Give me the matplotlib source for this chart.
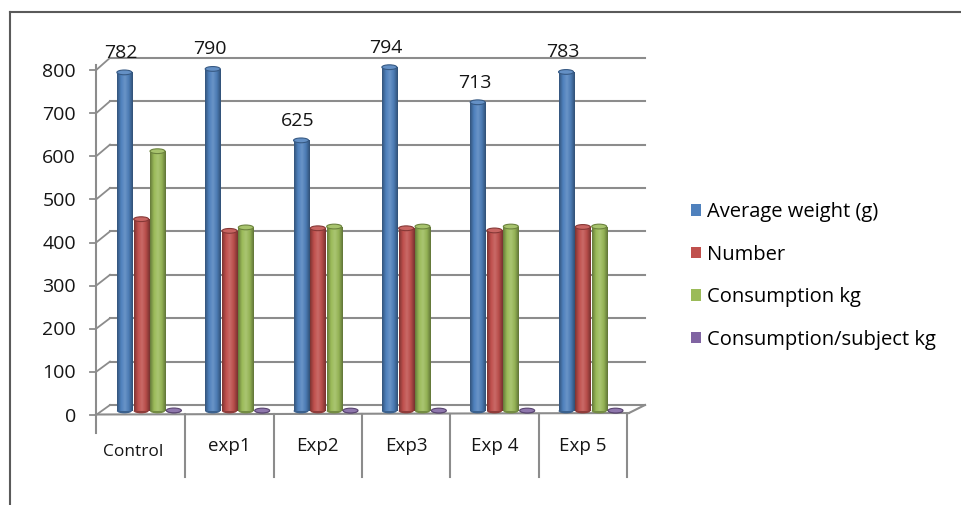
import numpy as np
import matplotlib
matplotlib.use("Agg")
import matplotlib.pyplot as plt
from matplotlib.patches import Ellipse, Patch
from matplotlib.lines import Line2D
from matplotlib.colors import LinearSegmentedColormap, to_rgb

# ---- data ----
categories = ["Control", "exp1", "Exp2", "Exp3", "Exp 4", "Exp 5"]
series_names = ["Average weight (g)", "Number", "Consumption kg", "Consumption/subject kg"]
avg_weight = [782, 790, 625, 794, 713, 783]
number = [443, 416, 422, 422, 417, 425]
consumption = [600, 424, 426, 426, 426, 426]
consumption_per_subject = [1.35, 1.02, 1.0, 1.0, 1.02, 1.0]
y_ticks = [0, 100, 200, 300, 400, 500, 600, 700, 800]

colors = ["#4F81BD", "#C0504D", "#9BBB59", "#8064A2"]
font = ["Open Sans", "DejaVu Sans"]
plt.rcParams["font.family"] = font

W, H = 961, 505
fig = plt.figure(figsize=(W / 100, H / 100), dpi=100)

# axes geometry (pixels)
PX_L, PX_R = 97, 627
PY_BASE, SCALE = 411, 0.433
PY_TOP, PY_BOT = 20, 480
ax = fig.add_axes([PX_L / W, 1 - PY_BOT / H, (PX_R - PX_L) / W, (PY_BOT - PY_TOP) / H])
xlim = (-0.5, 5.5)
ylim = ((PY_BASE - PY_BOT) / SCALE, (PY_BASE - PY_TOP) / SCALE)
ax.set_xlim(*xlim)
ax.set_ylim(*ylim)
ax.axis("off")

pxu = (PX_R - PX_L) / 6.0


def X(px):
    return (px - PX_L) / pxu - 0.5


def Y(py):
    return (PY_BASE - py) / SCALE


grid_c = "#8C8C8C"
txt_c = "#151515"
# back wall gridlines, diagonals and front ticks
for v in y_ticks:
    yb = 405 - 0.434 * v
    yf = 415 - 0.431 * v
    ax.plot([X(110), X(645)], [Y(yb), Y(yb)], color=grid_c, lw=1.5, clip_on=False, zorder=1)
    ax.plot([X(96), X(110)], [Y(yf), Y(yb)], color=grid_c, lw=1.3, clip_on=False, zorder=1)
    ax.plot([X(90), X(96)], [Y(yf), Y(yf)], color=grid_c, lw=1.3, clip_on=False, zorder=1)
    ax.text(X(76), Y(yf + 1.5), f"{v}", ha="right", va="center", fontsize=14, color=txt_c)

# left axis line
ax.plot([X(96), X(96)], [Y(65), Y(433)], color=grid_c, lw=1.5, clip_on=False, zorder=1)
# floor edges
ax.plot([X(96), X(629)], [Y(414.5), Y(413)], color=grid_c, lw=1.5, clip_on=False, zorder=1)
ax.plot([X(629), X(645)], [Y(413), Y(405)], color=grid_c, lw=1.5, clip_on=False, zorder=1)
# category separators
for i in range(1, 7):
    xp = PX_L + pxu * i
    ax.plot([X(xp), X(xp)], [Y(414), Y(477)], color=grid_c, lw=1.5, clip_on=False, zorder=1)

# ---- cylinder bars ----
offsets = [-0.19, 0.0, 0.185, 0.37]
bw = 0.17
cap_h = 11.0
all_series = [avg_weight, number, consumption, consumption_per_subject]


def shade(c, f):
    r, g, b = to_rgb(c)
    if f < 1:
        return (r * f, g * f, b * f)
    return (r + (1 - r) * (f - 1), g + (1 - g) * (f - 1), b + (1 - b) * (f - 1))


for s, (vals, col) in enumerate(zip(all_series, colors)):
    cmap = LinearSegmentedColormap.from_list(
        f"cyl{s}", [shade(col, 0.65), shade(col, 1.0), shade(col, 1.15), shade(col, 0.95), shade(col, 0.62)])
    grad = np.linspace(0, 1, 64).reshape(1, -1)
    xs = np.arange(len(categories)) + offsets[s]
    bars = ax.bar(xs, vals, width=bw, color=col, linewidth=0, zorder=3)
    for b, x, v in zip(bars, xs, vals):
        ax.add_patch(Ellipse((x, 0), bw, cap_h, facecolor=shade(col, 0.75), edgecolor="none", zorder=2.9))
        im = ax.imshow(grad, extent=[x - bw / 2, x + bw / 2, 0, v], aspect="auto", cmap=cmap,
                       zorder=3.1, interpolation="bilinear")
        im.set_clip_path(b)
        ax.add_patch(Ellipse((x, v), bw, cap_h, facecolor=shade(col, 1.12),
                             edgecolor=shade(col, 0.7), lw=0.8, zorder=3.3))

ax.set_xlim(*xlim)
ax.set_ylim(*ylim)

# data labels for first series
for i, v in enumerate(avg_weight):
    ax.text(i + offsets[0] - 0.035, v + 45, f"{v}", ha="center", va="center", fontsize=14,
            color=txt_c, zorder=5)

# category labels
for i, c in enumerate(categories):
    if i == 0:
        ax.text(i - 0.09, Y(452), c, ha="center", va="center", fontsize=12.5, color=txt_c)
    else:
        ax.text(i, Y(446), c, ha="center", va="center", fontsize=13.5, color=txt_c)

# legend
handles = [Patch(facecolor=c, edgecolor="none") for c in colors]
fig.legend(handles, series_names, loc="upper left", bbox_to_anchor=(691 / W, 1 - 202 / H),
           frameon=False, fontsize=14.5, handlelength=0.5, handleheight=0.5, handletextpad=0.3,
           labelspacing=1.12, borderaxespad=0, borderpad=0)

# figure border (top and left)
fig.add_artist(Line2D([10 / W, 10 / W], [0, 1 - 12 / H], color="#5A5A5A", lw=1.5))
fig.add_artist(Line2D([10 / W, 1], [1 - 12 / H, 1 - 12 / H], color="#5A5A5A", lw=1.5))

fig.savefig("out.png", dpi=100, facecolor="white")
